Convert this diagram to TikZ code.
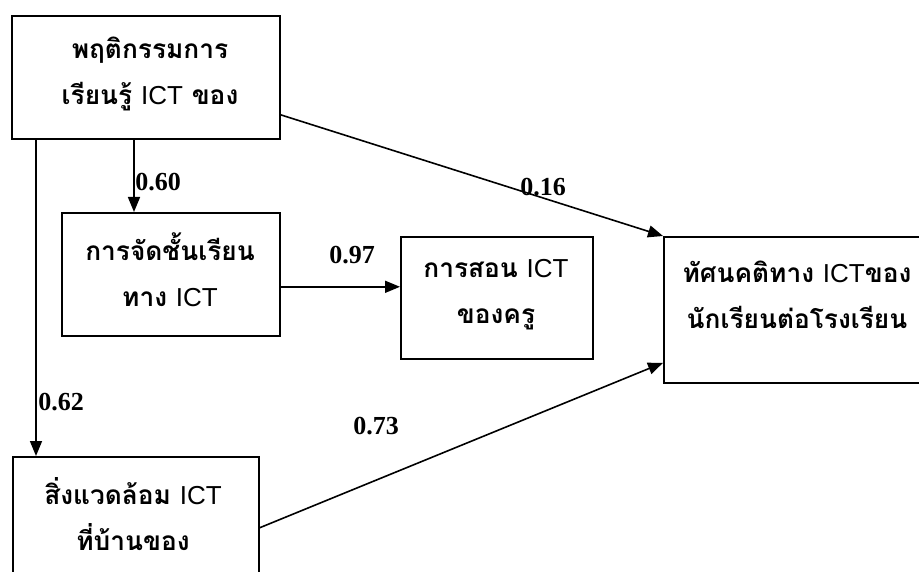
\documentclass[tikz,border=0pt]{standalone}
\usepackage{fontspec}
\setmainfont{Liberation Serif}
\newfontfamily\thaifont[Script=Thai,Scale=1.01]{Loma}
\newfontfamily\latfont{Liberation Sans}
\usetikzlibrary{arrows.meta}
\newcommand{\ict}{{\latfont\mdseries ICT}}
\begin{document}
\begin{tikzpicture}[x=1pt,y=-1pt,
  box/.style={draw, line width=1.6pt, inner sep=0pt, anchor=north west},
  txt/.style={font=\thaifont\bfseries\fontsize{26}{46}\selectfont, align=center, inner sep=0pt},
  num/.style={font=\bfseries\fontsize{26}{30}\selectfont, inner sep=0pt},
  arr/.style={line width=1.6pt, -{Triangle[length=15pt,width=12pt]}}]
\useasboundingbox (0,0) rectangle (919,572);
\clip (0,0) rectangle (919,572);
\fill[white] (0,0) rectangle (919,572);
% boxes
\node[box, minimum width=268pt, minimum height=123pt] (A) at (11,15) {};
\node[box, minimum width=218pt, minimum height=123pt] (B) at (61,212) {};
\node[box, minimum width=192pt, minimum height=122pt] (C) at (400,236) {};
\node[box, minimum width=268pt, minimum height=146pt] (D) at (663,236) {};
\node[box, minimum width=246pt, minimum height=120pt] (E) at (12,456) {};
% texts
\node[txt] (tA) at (150,74) {พฤติกรรมการ\\เรียนรู้ \ict{} ของ};
\node[txt] (tB) at (170,270) {การจัดชั้นเรียน\\ทาง \ict};
\node[txt] (tC) at (496,294.5) {การสอน \ict\\ของครู};
\node[txt] (tD) at (797,294.5) {ทัศนคติทาง \ict ของ\\นักเรียนต่อโรงเรียน};
\node[txt] (tE) at (133,514.5) {สิ่งแวดล้อม \ict\\ที่บ้านของ};
% connectors
\draw[arr] ([xshift=123pt]A.south west) -- ([xshift=123pt]A.south west |- B.north);
\draw[arr] ([xshift=25pt]A.south west) -- ([xshift=25pt]A.south west |- E.north);
\draw[arr] ([yshift=-37.5pt]A.east) -- (D.north west);
\draw[arr] ([yshift=-12.5pt]B.east) -- ([yshift=-12.5pt]B.east -| C.west);
\draw[arr] ([yshift=-11pt]E.east) -- ([yshift=-53pt]D.west);
% coefficients
\node[num] (n60) at (158,182) {0.60};
\node[num] (n62) at (61,402) {0.62};
\node[num] (n16) at (543,187) {0.16};
\node[num] (n97) at (352,255) {0.97};
\node[num] (n73) at (376,426) {0.73};
\end{tikzpicture}
\end{document}
